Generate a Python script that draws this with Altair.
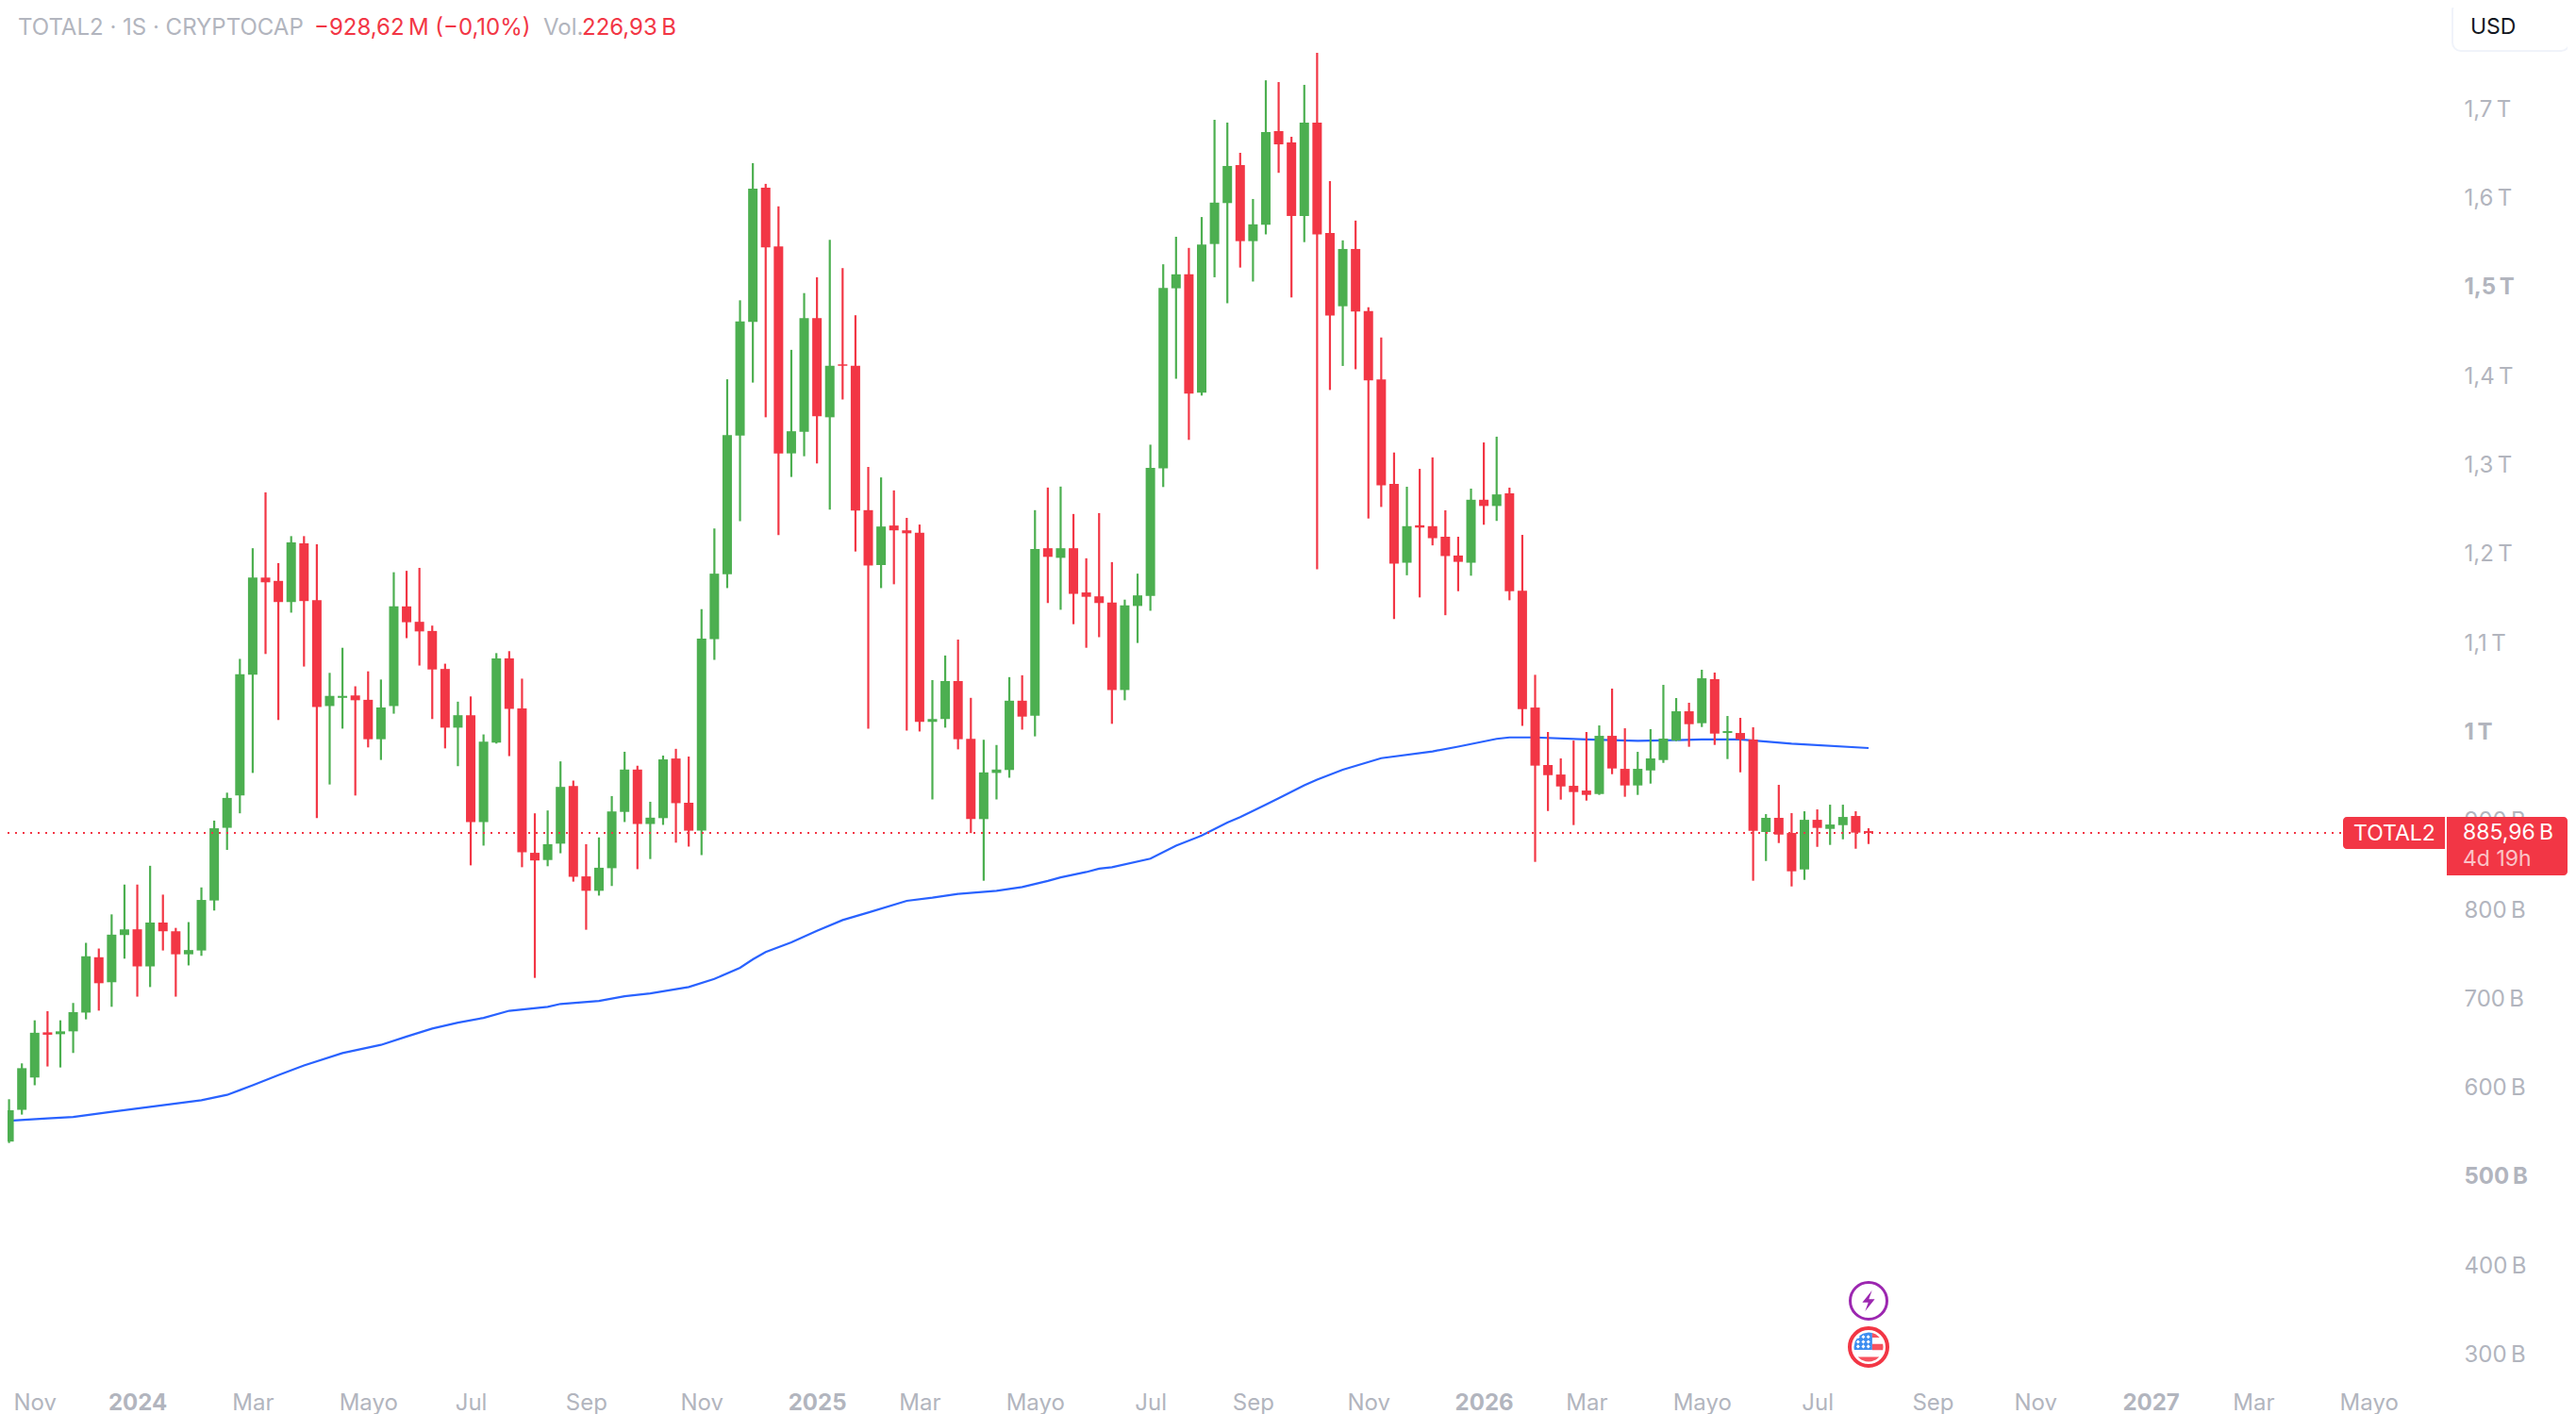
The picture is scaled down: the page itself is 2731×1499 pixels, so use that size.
import altair as alt
import pandas as pd

HIGH = [586.6,626.9,675.3,685.6,675.3,694.8,762.4,756,794.4,827.9,
827.9,849,816.6,779.2,785.7,824.7,899.8,931.2,1081.6,1206,
1268.8,1189.3,1219.6,1219.6,1210.4,1065.9,1094.1,1050.8,1067.6,1058.4,
1179,1180.6,1183.9,1119,1076.2,1033.5,1039.4,996.7,1088.1,1090.3,
1059.4,908,911.2,966.4,944.8,873.3,880.9,927.4,977.2,961.5,
921,972.9,980.5,971.8,1137.4,1228.2,1395.9,1484.7,1638.9,1615.6,
1590.2,1429,1492.8,1510.6,1552.8,1520.9,1467.9,1297.5,1285.6,1271,
1240.1,1232.6,1057.8,1085.4,1103.3,1037.8,990.7,984.8,1061.1,1063.2,
1248.8,1274.2,1275.3,1244.5,1194.7,1245.5,1190.4,1148.2,1177.4,1322.4,
1525.2,1556.1,1543.6,1578.3,1687.6,1684.5,1650.5,1598.6,1732,1730,
1668.5,1726.9,1762.9,1618.7,1552.1,1574.3,1476.9,1442.9,1313.6,1275.1,
1295.2,1308.1,1248.6,1218.9,1273,1324.9,1331.4,1274.1,1221,1063.7,
999.4,969.7,989.8,999.4,1006.8,1048.2,1003.6,977.1,1002.6,1052.4,
1037.6,1032.3,1069.4,1066.2,1017.4,1015.3,1004.7,907.1,940,908.2,
910.3,912.4,917.7,917.7,910.3,891.2]

LOW = [537.4,569.3,602.3,623.4,622.3,638.6,676.4,686.2,690.5,744.6,
701.9,712.7,753.8,701.9,737,747.8,798.7,866.9,908,953.4,
1087.1,1012.9,1133.6,1073,902.6,940.4,1003.2,928,982.1,968,
1020,1104.9,1074.1,1014,981,961,849.5,871.7,986.4,972.3,
847.4,723,848.5,863.1,831.2,777.1,815.5,826.3,898.2,845.2,
856.6,895,875,870.6,860.9,1080.5,1161.2,1236.4,1392.2,1353.2,
1220.7,1286.1,1309.4,1301.3,1249.3,1373.2,1202.3,1003.2,1161.2,1165.5,
1001,1000,923.6,1004.3,979.9,885.8,832.2,923.6,948,1002.1,
994.5,1144.4,1136.8,1120.6,1094.1,1106,1008.6,1035.1,1099.5,1135.7,
1274.8,1396.5,1327.8,1377.6,1510.6,1481.4,1521.5,1505.8,1558.8,1628,
1487.9,1550.1,1182.2,1383.9,1410.9,1407.2,1239.4,1252.4,1126.4,1175.6,
1150.7,1209.2,1130.7,1157.7,1175.1,1232.4,1236.7,1147.5,1006.3,853.4,
910.6,923.4,894.8,922.3,928.7,952,926.6,928.7,941.4,964.7,
989.1,982.8,1005,984.9,969,954.1,832.2,854.4,874.6,825.8,
833.2,870.3,872.5,878.8,868.2,873.5]

OPEN = [539,574.7,611,661.8,659.7,662.9,684,746.2,718.1,771.1,
777.6,735.9,785.2,775.4,749.5,753.8,810,891.7,928,1063.8,
1173,1169.3,1145.5,1211.5,1147.6,1028.6,1037.8,1040.5,1035.6,991.3,
1028.6,1140.6,1123.3,1113,1070.3,1004.3,1018.3,898.2,987.5,1082.2,
1025.9,863.6,855.5,873.9,938.8,837.1,820.9,846.3,909.6,957.2,
896,902.6,969.6,919.9,888.5,1103.8,1176.8,1332.6,1460.3,1611.3,
1545.3,1312.6,1337,1464.7,1353.2,1412.7,1411.1,1248.8,1187.1,1231.5,
1226.1,1223.4,1010.8,1014,1056.7,991.8,901.5,953.4,956.7,1034.6,
1017.8,1206,1195.2,1206,1156.3,1151.9,1144.9,1046.5,1141.1,1152.5,
1295.9,1498.2,1513.9,1380.8,1548,1594,1636.7,1551.2,1569.6,1674.9,
1662.2,1579.5,1684.5,1560.3,1478,1542.4,1472.6,1395.8,1278.4,1189.7,
1231.8,1230.8,1218.9,1197.8,1189.7,1260.5,1253.5,1267.6,1158.3,1026.9,
962.3,951.6,938.9,933.6,929.7,995.1,958,939.3,956.2,967.9,
989.8,1022.7,1009.3,1058.8,998.3,998.3,990.9,887,902.9,885.9,
844.9,900.7,890.5,894.7,905,888]

CLOSE = [574.2,621.5,661.3,659.1,662.9,684.5,747.3,717,771.6,777.6,
735.9,785.2,775.4,749.5,754.3,810.6,891.2,925.3,1064.3,1173,
1167.7,1145.5,1212.6,1146.6,1027.5,1040,1040,1035.1,991.3,1027,
1140.6,1122.8,1112.5,1069.7,1004.3,1018.3,898.2,988.6,1082.2,1025.4,
864.1,855,873.3,937.7,836.6,820.9,846.8,910.1,957.2,896,
903.1,968.6,919.4,888.5,1104.4,1177.4,1333.2,1460.9,1610.2,1544.2,
1312.6,1337.5,1464.7,1354.3,1411.1,1411.1,1248.3,1186.6,1230.4,1226.1,
1222.8,1010.8,1014,1056.7,991.3,901.5,954,957.2,1034.6,1016.7,
1205,1196.3,1206,1154.7,1151.4,1144.4,1046.5,1141.7,1153,1296.4,
1498.7,1513.9,1379.7,1547.4,1594.5,1635.7,1551.2,1570.1,1673.9,1660,
1579.5,1684.5,1558.8,1467.7,1542.4,1472.1,1394.7,1276.8,1188.6,1230.8,
1229.2,1217.3,1197.2,1190.7,1260.5,1253.5,1266.5,1157.7,1025.2,961.6,
950.9,938.2,931.9,928.7,995.1,958.4,939.3,958,969.7,992,
1022.7,1008.2,1059.8,997.6,1000.4,991.2,888.4,902.9,884.1,842.8,
900.7,891.6,895.4,903.9,886.3,885.96]

MA_WEEK = [0,3,5,8,11,15,17,19,21,23,26,29,31,33,35,37,39,42,43,46,48,50,53,55,57,58,59,61,63,65,
           67,70,72,74,77,79,81,82,84,85,86,89,91,93,95,96,98,99,101,102,104,107,111,113,116,117,
           119,123,127,129,132,135,139,145]
MA_VALUE = [562.3,565,566.6,572.5,578,585.5,591.5,602.3,613.7,624.5,638.5,647.7,657,666,672.6,678,686,690.5,693.7,697,
            702.4,705.6,712.7,721.9,734.3,743.8,752,762.9,776,788,
            796.5,809.6,813.1,817.4,820.9,825.1,832,836,842,845.7,847.4,857,871.7,883,897.7,903.6,917.7,925,939.4,945.8,
            957,970,977.6,983,991.7,993.3,993.3,991,989.5,990,991,991,986.3,981.4]

LAST_PRICE = 885.96
Y_TICKS = [300,400,500,600,700,800,900,1000,1100,1200,1300,1400,1500,1600,1700]
X_TICKS = ["2023-11-06","2024-01-01","2024-03-04","2024-05-06","2024-07-01","2024-09-02","2024-11-04",
           "2025-01-06","2025-03-03","2025-05-05","2025-07-07","2025-09-01","2025-11-03",
           "2026-01-05","2026-03-02","2026-05-04","2026-07-06","2026-09-07","2026-11-02",
           "2027-01-04","2027-03-01","2027-05-03"]

RED, GREEN, BLUE, GREY = "#f23645", "#4caf50", "#2962ff", "#b2b5be"
FONT = "Inter"

dates = pd.date_range("2023-10-23", periods=len(HIGH), freq="7D")
candles = pd.DataFrame({"date": dates, "open": OPEN, "high": HIGH, "low": LOW, "close": CLOSE})
candles["dir"] = ["up" if c >= o else "down" for o, c in zip(OPEN, CLOSE)]
ma = pd.DataFrame({"date": dates[MA_WEEK], "value": MA_VALUE})

PW, PH = 2592, 1452
x_scale = alt.Scale(domain=["2023-10-22T04:20:00", "2027-06-17T17:00:00"], padding=0)
y_scale = alt.Scale(domain=[274.1, 1813.8], nice=False, zero=False)
color = alt.Color("dir:N", scale=alt.Scale(domain=["up", "down"], range=[GREEN, RED]), legend=None)

x_axis = alt.Axis(
    values=[d + "T00:00:00" for d in X_TICKS], title=None, grid=False, domain=False, ticks=False,
    labelColor=GREY, labelFont=FONT, labelFontSize=24, labelPadding=15, labelOverlap=False,
    labelFlush=False, labelAngle=0,
    labelExpr="month(datum.value)==0 ? timeFormat(datum.value,'%Y') : "
              "({'10':'Nov','2':'Mar','4':'Mayo','6':'Jul','8':'Sep'})[''+month(datum.value)]",
    labelFontWeight={"condition": {"test": "month(datum.value)==0", "value": "bold"}, "value": "normal"},
)
y_axis = alt.Axis(
    values=Y_TICKS, orient="right", title=None, grid=False, domain=False, ticks=False,
    labelColor=GREY, labelFont=FONT, labelFontSize=24, labelPadding=12, labelOverlap=False,
    labelFlush=False, labelOffset=1,
    labelExpr="datum.value>=1000 ? replace(format(datum.value/1000,'.1~f'),'.',',')+'\u202fT' : datum.value+'\u202fB'",
    labelFontWeight={"condition": {"test": "datum.value==500||datum.value==1000||datum.value==1500", "value": "bold"},
                     "value": "normal"},
)

X = alt.X("date:T", scale=x_scale, axis=x_axis)
Y = lambda f: alt.Y(f, type="quantitative", scale=y_scale, axis=y_axis)

ma_line = alt.Chart(ma).mark_line(color=BLUE, strokeWidth=2.2).encode(x=X, y=Y("value"))
wicks = alt.Chart(candles).mark_rule(strokeWidth=2.2).encode(x=X, y=Y("low"), y2="high", color=color)
bodies = alt.Chart(candles).mark_bar(width=10).encode(x=X, y=Y("open"), y2="close", color=color)

one = pd.DataFrame({"k": [0]})
price_line = alt.Chart(one).mark_rule(color=RED, strokeWidth=1.8, strokeDash=[2, 6]).encode(
    y=alt.Y(datum=LAST_PRICE, scale=y_scale, axis=y_axis), x=alt.value(0), x2=alt.value(2476))


def text(s, x, y, col=GREY, size=24, weight="normal", opacity=1.0):
    return alt.Chart(pd.DataFrame({"t": [s]})).mark_text(
        align="left", baseline="middle", font=FONT, fontSize=size, fontWeight=weight, color=col, opacity=opacity
    ).encode(x=alt.value(x - 8), y=alt.value(y - 8), text="t:N")


def box(x1, x2, y1, y2, fill, **kw):
    return alt.Chart(one).mark_rect(fill=fill, **kw).encode(
        x=alt.value(x1 - 8), x2=alt.value(x2 - 8), y=alt.value(y1 - 8), y2=alt.value(y2 - 8))


def glyph(shape, x, y, size, **kw):
    return alt.Chart(one).mark_point(shape=shape, size=size, **kw).encode(x=alt.value(x - 8), y=alt.value(y - 8))


def poly(points):
    return "M" + " L".join(f"{a},{b}" for a, b in points) + " Z"


BOLT = poly([(0.33, -1), (-0.6, 0.15), (-0.03, 0.15), (-0.33, 1), (0.6, -0.15), (0.03, -0.15)])
CANTON = poly([(0.25, -0.968), (0, -1), (-0.38, -0.92), (-0.71, -0.71), (-0.92, -0.38), (-1, 0), (-0.98, 0.2), (0.25, 0.2)])
STRIPES = " ".join([
    poly([(0.25, -0.968), (0.5, -0.866), (0.76, -0.65), (0.25, -0.65)]),
    poly([(0.25, -0.21), (0.978, -0.21), (1, 0), (0.978, 0.21), (0.25, 0.21)]),
    poly([(-0.73, 0.68), (0.73, 0.68), (0.5, 0.866), (0.2, 0.98), (0, 1), (-0.2, 0.98), (-0.5, 0.866)]),
])
STARS = " ".join(
    poly([(a, b - 0.13), (a + 0.13, b), (a, b + 0.13), (a - 0.13, b)])
    for a in (-0.72, -0.36, -0.02) for b in (-0.7, -0.36, -0.04)
)

layers = [
    ma_line, wicks, bodies, price_line,
    text("TOTAL2 \u00b7 1S \u00b7 CRYPTOCAP", 19, 30),
    text("\u2212928,62\u202fM (\u22120,10%)", 333, 30, RED),
    text("Vol.", 576, 30),
    text("226,93\u202fB", 617, 30, RED),
    box(2600, 2724, 2, 54, "#ffffff", stroke="#f0f3fa", strokeWidth=2, cornerRadius=9),
    text("USD", 2619, 29, "#131722", 23),
    box(2484, 2592, 866, 900, RED, cornerRadiusTopLeft=4, cornerRadiusBottomLeft=4),
    box(2594, 2722, 866, 928, RED, cornerRadiusTopRight=4, cornerRadiusBottomRight=4),
    text("TOTAL2", 2495, 884, "#ffffff", 23),
    text("885,96\u202fB", 2611, 883, "#ffffff", 23),
    text("4d 19h", 2611, 911, "#ffffff", 23, opacity=0.7),
    glyph("circle", 1981, 1379, 1521, stroke="#9c27b0", strokeWidth=3, fill="#ffffff", fillOpacity=1),
    glyph(BOLT, 1981, 1379, 484, fill="#9c27b0", filled=True, stroke=None, opacity=1),
    glyph("circle", 1981, 1428, 1600, stroke=RED, strokeWidth=4, fill="#ffffff", fillOpacity=1),
    glyph(CANTON, 1981, 1428, 961, fill="#3d8ef0", filled=True, stroke=None, opacity=1),
    glyph(STRIPES, 1981, 1428, 961, fill="#f7525f", filled=True, stroke=None, opacity=1),
    glyph(STARS, 1981, 1428, 961, fill="#ffffff", filled=True, stroke=None, opacity=1),
]

chart = alt.layer(*layers).properties(
    width=PW, height=PH,
    padding={"left": 0, "top": 0, "right": 122, "bottom": 39},
    autosize=alt.AutoSizeParams(type="none"),
    background="#ffffff",
).configure_view(stroke=None)

chart.save("out.html", embed_options={"renderer": "svg", "actions": False})
